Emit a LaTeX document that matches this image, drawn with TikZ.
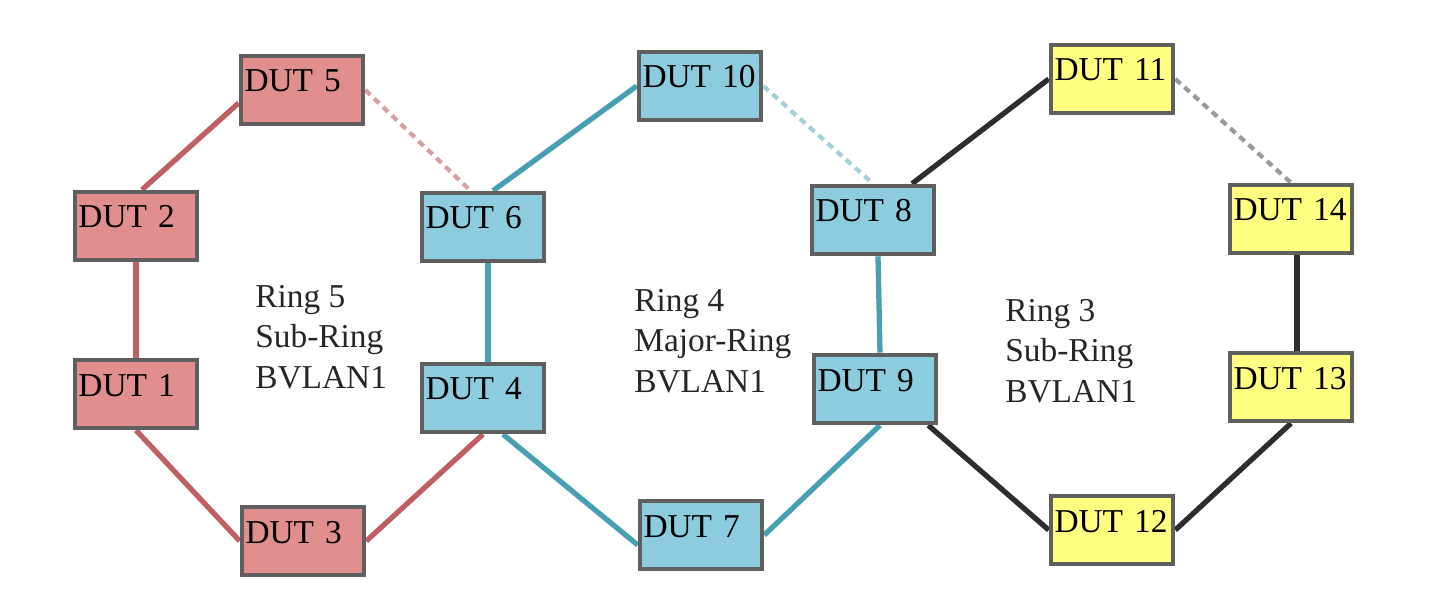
\documentclass[tikz,border=0pt]{standalone}
\usepackage{fontspec}
\setmainfont{Liberation Serif}
\usetikzlibrary{backgrounds}
\definecolor{redfill}{RGB}{224,142,142}
\definecolor{cyanfill}{RGB}{140,204,222}
\definecolor{yelfill}{RGB}{255,255,128}
\definecolor{boxline}{RGB}{95,95,95}
\definecolor{redline}{RGB}{190,95,100}
\definecolor{cyanline}{RGB}{70,160,178}
\definecolor{blkline}{RGB}{45,45,45}
\begin{document}
\begin{tikzpicture}[
		dut/.style={rectangle, draw=boxline, line width=2.6pt, text width=2.3cm, align=left,
			inner xsep=0.07cm, inner ysep=0.04cm, text height=0.68cm, text depth=0.60cm,
			font=\fontsize{19}{22}\selectfont},
		ring/.style={anchor=north west, inner sep=0pt, align=left, text=black!85,
			font=\fontsize{19}{23}\selectfont},
		link/.style={line width=3pt},
		spare/.style={line width=2.4pt, dash pattern=on 4pt off 3pt}]
		\useasboundingbox (0,0) rectangle (28.8,-11.84);
		% ring 5
		\node[dut, fill=redfill] (d5) at (6.04,-1.80){DUT 5};
		\node[dut, fill=redfill] (d2) at (2.72,-4.52){DUT 2};
		\node[dut, fill=redfill] (d1) at (2.72,-7.88){DUT 1};
		\node[dut, fill=redfill] (d3) at (6.06,-10.82){DUT 3};
		% ring 4
		\node[dut, fill=cyanfill] (d6) at (9.66,-4.54){DUT 6};
		\node[dut, fill=cyanfill] (d4) at (9.66,-7.96){DUT 4};
		\node[dut, fill=cyanfill] (d10) at (14.00,-1.72){DUT 10};
		\node[dut, fill=cyanfill] (d7) at (14.02,-10.70){DUT 7};
		\node[dut, fill=cyanfill] (d8) at (17.46,-4.40){DUT 8};
		\node[dut, fill=cyanfill] (d9) at (17.50,-7.78){DUT 9};
		% ring 3
		\node[dut, fill=yelfill] (d11) at (22.24,-1.58){DUT 11};
		\node[dut, fill=yelfill] (d14) at (25.82,-4.38){DUT 14};
		\node[dut, fill=yelfill] (d13) at (25.82,-7.74){DUT 13};
		\node[dut, fill=yelfill] (d12) at (22.24,-10.60){DUT 12};
		\node[ring] (r5) at (5.10,-5.70){Ring 5\\Sub-Ring\\BVLAN1};
		\node[ring] (r4) at (12.68,-5.78){Ring 4\\Major-Ring\\BVLAN1};
		\node[ring] (r3) at (20.10,-5.98){Ring 3\\Sub-Ring\\BVLAN1};
		\begin{scope}[on background layer]
		\draw[link, redline] ([yshift=-0.26cm]d5.west) -- ([xshift=0.12cm]d2.north);
		\draw[link, redline] (d2.south) -- (d1.north);
		\draw[link, redline] (d1.south) -- (d3.west);
		\draw[link, redline] (d3.east) -- (d4.south);
		\draw[spare, redline!60] (d5.east) -- ([xshift=-0.25cm]d6.north);
		\draw[link, cyanline] ([xshift=0.2cm]d6.north) -- (d10.west);
		\draw[link, cyanline] ([xshift=0.1cm]d6.south) -- ([xshift=0.1cm]d4.north);
		\draw[link, cyanline] ([xshift=0.4cm]d4.south) -- ([yshift=-0.2cm]d7.west);
		\draw[link, cyanline] (d7.east) -- ([xshift=0.1cm]d9.south);
		\draw[link, cyanline] ([xshift=0.1cm]d9.north) -- ([xshift=0.1cm]d8.south);
		\draw[spare, cyanline!50] (d10.east) -- (d8.north);
		\draw[link, blkline] ([xshift=0.78cm]d8.north) -- (d11.west);
		\draw[spare, gray!80] (d11.east) -- (d14.north);
		\draw[link, blkline] ([xshift=0.12cm]d14.south) -- ([xshift=0.12cm]d13.north);
		\draw[link, blkline] (d13.south) -- (d12.east);
		\draw[link, blkline] ([xshift=-0.2cm]d9.south east) -- (d12.west);
		\end{scope}
		\end{tikzpicture}
\end{document}
